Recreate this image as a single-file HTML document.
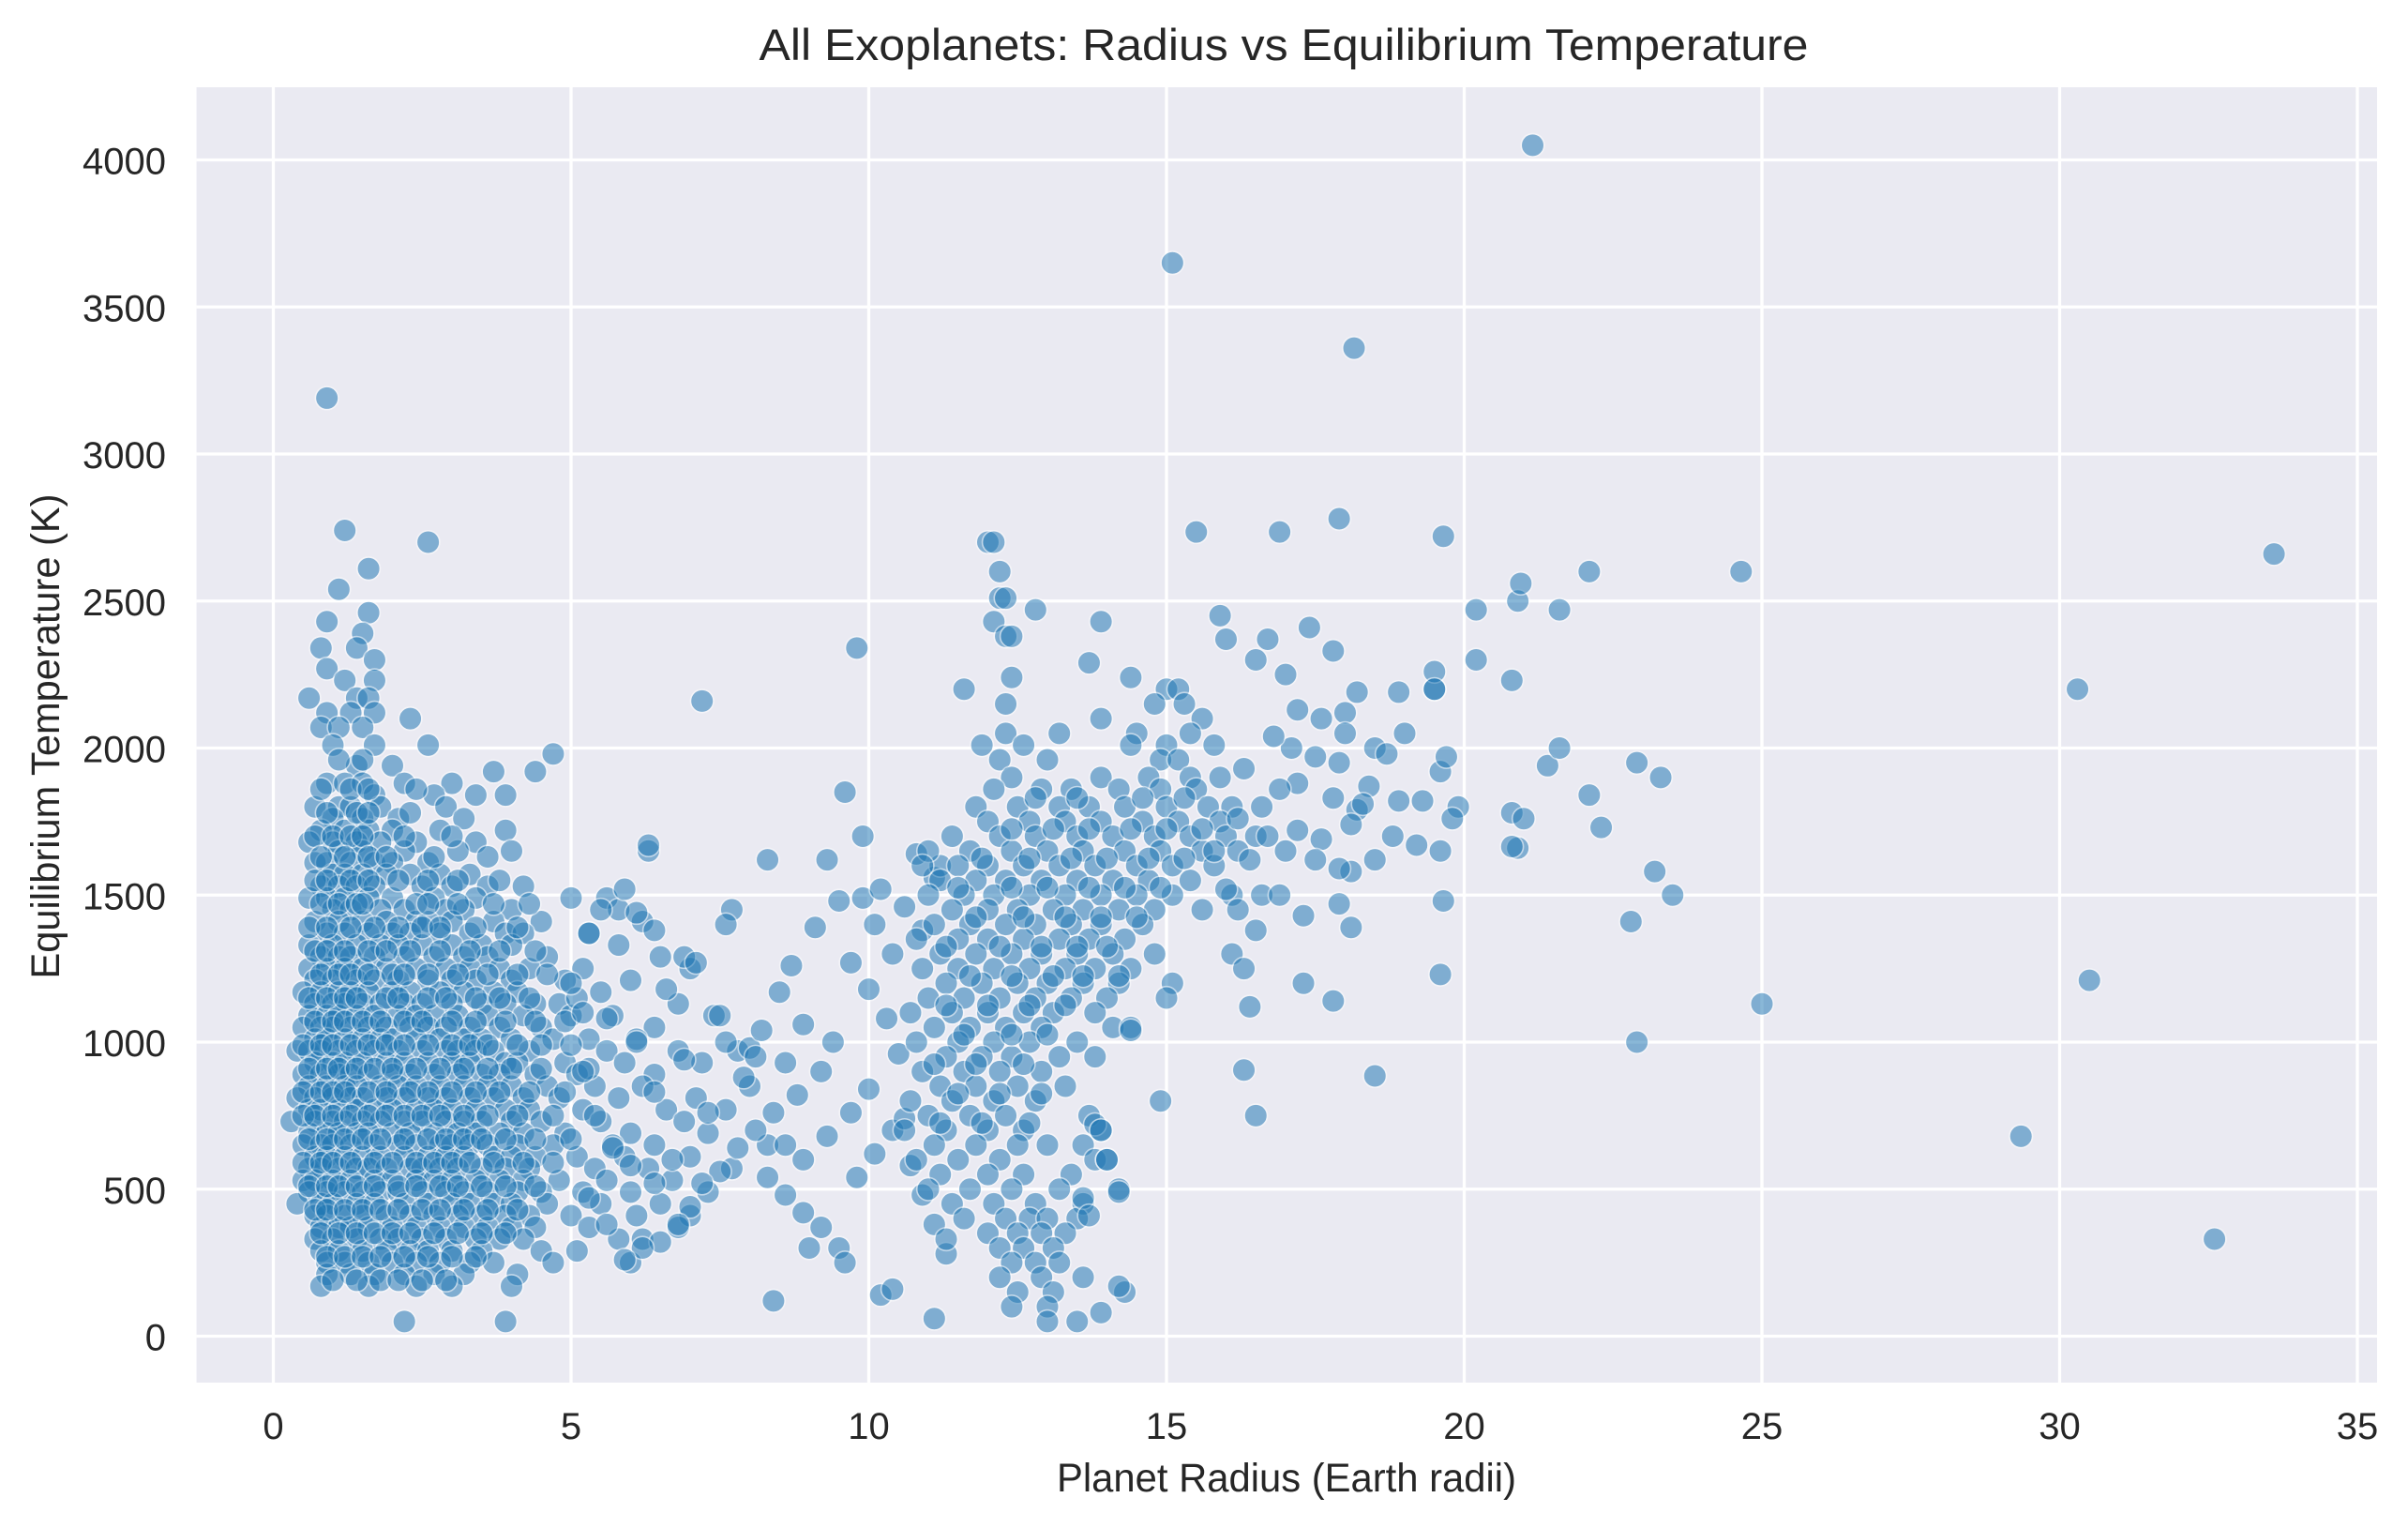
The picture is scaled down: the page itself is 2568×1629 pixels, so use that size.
<!DOCTYPE html>
<html><head><meta charset="utf-8"><title>All Exoplanets: Radius vs Equilibrium Temperature</title>
<style>html,body{margin:0;padding:0;background:#fff}svg{display:block}text{font-family:"Liberation Sans",Arial,sans-serif;fill:#262626}</style>
</head><body>
<svg id="chart" width="2568" height="1629" viewBox="0 0 2568 1629" xmlns="http://www.w3.org/2000/svg">
<rect x="0" y="0" width="2568" height="1629" fill="#ffffff"/>
<rect x="209.6" y="93" width="2325.4" height="1381" fill="#eaeaf2"/>
<g id="grid"></g>
<g id="ticks"></g>
<g id="points"></g>
<text x="1369" y="64" font-size="47" text-anchor="middle" textLength="1119" lengthAdjust="spacingAndGlyphs">All Exoplanets: Radius vs Equilibrium Temperature</text>
<text x="1372" y="1590" font-size="43" text-anchor="middle" textLength="490" lengthAdjust="spacingAndGlyphs">Planet Radius (Earth radii)</text>
<text x="0" y="0" font-size="43" text-anchor="middle" textLength="517" lengthAdjust="spacingAndGlyphs" transform="translate(63,785) rotate(-90)">Equilibrium Temperature (K)</text>
</svg>
<script>
const xTicks = [0, 5, 10, 15, 20, 25, 30, 35];
const yTicks = [0, 500, 1000, 1500, 2000, 2500, 3000, 3500, 4000];

// Small planets: temperature rows and the radii observed at each row
const smallTemps = [2740,2700,2610,2540,2460,2430,2390,2340,2300,2270,2230,2170,2120,2100,2070,2010,1980,1940,1920,1880,1840,1800,1760,1720,1680,1650,1610,1570,1530,1490,1450,1410,1370,1330,1290,1250,1210,1170,1130,1090,1050,1010,970,930,890,850,810,770,730,690,650,610,570,530,490,450,410,370,330,290,250,210,170,50];
const smallRadii = [
[1.2],[2.6],[1.6],[1.1],[1.6],[0.9],[1.5],[0.8,1.4],[1.7],[0.9],[1.2,1.7],[0.6,1.4,1.6],[0.9,1.3,1.7],[2.3],[0.8,1.1,1.5],[1.0,1.7,2.6],[4.7],[1.4,2.0],[3.7,4.4],
[0.9,1.2,1.5,2.2,3.0],[1.7,2.7,3.4,3.9],[0.7,1.1,1.3,1.8,2.9],[1.0,1.5,2.1,3.2],[0.8,1.2,1.6,2.0,2.8,3.9],[0.6,1.0,1.4,1.8,2.4,3.4],[1.1,1.5,2.2,3.1,4.0,6.3],
[0.7,0.9,1.3,1.7,2.0,2.6],[1.0,1.2,1.5,1.9,2.3,2.8,3.3],[0.8,1.1,1.4,1.7,2.5,3.0,3.6,4.2],[0.6,0.9,1.2,1.6,2.0,2.7,3.4,5.0,5.6],[1.0,1.3,1.8,2.2,2.9,3.2,4.0,5.8],
[0.7,1.1,1.5,1.9,2.4,2.6,3.0,3.7,4.5,6.2],[0.9,1.2,1.6,2.0,2.3,2.8,3.3,3.9,4.2,5.3],[0.6,1.0,1.4,1.8,2.1,2.5,3.0,3.5,4.0,5.8],[0.8,1.1,1.3,1.7,2.2,2.7,3.2,3.6,4.6,6.5],
[0.6,0.9,1.2,1.5,1.9,2.4,2.9,3.3,3.8,4.3,5.2,7.0],[0.7,1.0,1.4,1.7,2.1,2.6,3.0,3.4,4.0,4.9,6.0],[0.5,0.8,1.1,1.3,1.6,2.0,2.3,2.8,3.2,3.7,4.1,5.5],
[0.7,1.0,1.2,1.5,1.8,2.2,2.5,3.0,3.5,3.9,4.4,4.8,6.8],[0.6,0.9,1.1,1.4,1.7,2.1,2.4,2.7,3.1,3.6,4.2,5.0,5.7,7.4],[0.5,0.8,1.0,1.3,1.6,1.9,2.3,2.6,2.9,3.3,3.8,4.5,6.4],
[0.7,0.9,1.2,1.5,1.8,2.0,2.4,2.8,3.2,3.5,4.0,4.7,5.3,6.1],[0.4,0.6,0.8,1.1,1.4,1.7,2.1,2.5,2.9,3.1,3.4,3.7,4.3,5.6,6.8,7.8],[0.7,1.0,1.2,1.5,1.9,2.2,2.6,3.0,3.3,3.9,4.1,4.9,5.9,7.2],
[0.5,0.8,1.1,1.3,1.6,2.0,2.3,2.7,3.1,3.5,3.8,4.4,5.1,6.4],[0.6,0.9,1.2,1.4,1.8,2.1,2.4,2.8,3.2,3.6,4.0,4.6,5.4,6.2,8.0],[0.4,0.7,1.0,1.3,1.5,1.9,2.2,2.6,2.9,3.3,3.7,4.2,4.8,5.8,7.1],
[0.6,0.8,1.1,1.4,1.7,2.0,2.4,2.7,3.0,3.4,3.9,4.3,5.2,6.6,7.6],[0.3,0.7,1.0,1.2,1.5,1.8,2.2,2.5,2.9,3.2,3.5,4.0,4.5,5.5,6.9],[0.6,0.9,1.1,1.4,1.6,2.0,2.3,2.7,3.1,3.4,3.8,4.2,4.9,6.0,7.3],
[0.5,0.8,1.0,1.3,1.7,2.1,2.4,2.8,3.0,3.3,3.6,4.1,4.7,5.7,6.4,8.3],[0.7,0.9,1.2,1.5,1.8,2.2,2.6,2.9,3.2,3.7,4.0,4.4,5.1,5.9,7.0],[0.6,0.8,1.1,1.4,1.6,1.9,2.3,2.5,2.8,3.1,3.5,3.9,4.3,5.4,6.3,7.7],
[0.5,0.7,1.0,1.3,1.7,2.0,2.4,2.7,3.0,3.4,3.8,4.2,4.8,5.6,6.7],[0.6,0.9,1.2,1.5,1.8,2.1,2.5,2.9,3.2,3.6,4.1,4.5,5.2,6.0,7.3],[0.4,0.8,1.0,1.4,1.7,2.2,2.6,3.0,3.3,3.7,4.0,4.6,5.5,6.5],
[0.7,0.9,1.2,1.5,1.9,2.3,2.7,3.1,3.5,3.9,4.3,5.0,6.1,7.0],[0.8,1.1,1.3,1.6,2.0,2.4,2.8,3.2,3.6,4.0,4.4,5.3,6.8],[0.7,1.0,1.4,1.8,2.1,2.5,2.9,3.4,3.8,4.2,5.8,6.2],
[0.8,1.1,1.5,1.9,2.3,2.6,3.0,3.5,4.5,5.1],[0.9,1.2,1.6,2.0,2.4,2.8,3.3,3.7,4.7,6.0],[0.9,1.3,1.7,2.2,2.7,3.2,4.1],[0.8,1.6,2.4,3.0,4.0],[2.2,3.9]
];

// Additional small-planet rows filling the densest region
const denseTemps = [1960,1860,1780,1700,1630,1550,1470,1390,1310,1230,1150,1070,990,910,830,750,670,590,510,430,350,270,190];
const denseRadii = [
[1.1,1.5],[0.8,1.3,1.6,2.4],[0.9,1.4,1.6,2.3],[0.7,1.0,1.3,1.5,2.2,3.0],[0.8,1.2,1.6,1.9,2.7,3.6],[0.7,0.9,1.3,1.6,2.1,2.6,3.1,3.8],
[0.8,1.1,1.4,1.5,2.4,2.6,3.1,3.7,4.3],[0.6,0.9,1.3,1.7,2.1,2.5,2.8,3.4,4.1],[0.7,0.9,1.2,1.6,1.9,2.3,2.8,3.3,3.8,4.4],
[0.8,1.1,1.3,1.6,2.0,2.2,2.6,3.1,3.6,4.1,4.6],[0.6,0.9,1.2,1.4,1.9,2.1,2.6,2.9,3.4,3.8,4.3,5.1],[0.7,1.0,1.2,1.5,1.8,2.2,2.5,3.0,3.4,3.9,4.4,4.9],
[0.5,0.8,1.0,1.3,1.6,1.9,2.2,2.6,3.0,3.3,3.6,4.1,4.5,5.0],[0.6,0.9,1.1,1.4,1.7,2.0,2.4,2.8,3.2,3.6,4.0,4.5,5.3],[0.5,0.8,1.0,1.2,1.6,1.9,2.3,2.6,3.0,3.4,3.8,4.3,4.9],
[0.5,0.7,1.0,1.3,1.6,1.9,2.2,2.5,2.8,3.2,3.6,4.1,4.7,5.4],[0.6,0.9,1.2,1.5,1.8,2.2,2.6,2.9,3.2,3.5,3.9,4.4,5.0],[0.5,0.8,1.0,1.3,1.7,2.0,2.4,2.7,3.0,3.3,3.7,4.2,4.7],
[0.6,0.9,1.1,1.4,1.7,2.1,2.4,2.8,3.1,3.5,3.9,4.4],[0.7,0.9,1.2,1.5,1.8,2.1,2.5,2.8,3.2,3.6,4.1],[0.8,1.1,1.4,1.7,2.0,2.3,2.7,3.1,3.5,3.9],
[0.9,1.2,1.5,1.8,2.2,2.6,3.0,3.4],[1.0,1.4,1.8,2.1,2.5,2.9]
];

// Mid-size planets (scattered)
const midRadius = [5.3,5.5,5.9,6.1,6.4,6.3,6.6,6.9,7.1,7.2,7.5,7.7,7.6,8.0,8.3,8.2,8.5,8.7,8.6,8.9,9.1,9.3,9.5,9.6,9.7,9.8,9.9,9.9,10.1,10.2,10.4,10.6,10.8,10.9,11.1,11.2,10.3,10.5,10.0,9.4,9.2,8.8,8.4,8.1,7.8,7.5,7.2,7.0,6.8,6.5,6.2,5.9,5.6,5.3,5.7,6.0,6.4,6.7,7.3,7.9,8.3,8.6,8.9,9.2,9.5,9.8,10.1,10.4,10.7,10.9,11.1,11.3,9.0,9.6,10.2,10.4,11.1,8.4,11.3,10.6,10.0,9.7,9.3,8.9,8.6,8.1,7.6,6.9,6.4,6.1,5.6,5.2,5.0,5.2];
const midTemp = [1370,1450,1520,1440,1380,1670,1180,1290,1270,2160,1090,1450,1400,980,1620,1040,1170,1260,930,1060,1390,1620,1480,1850,1270,2340,1700,1490,1400,1520,1300,1460,1640,1380,1560,1600,1080,960,1180,1000,900,820,760,700,640,560,520,440,380,320,300,260,380,470,640,580,520,600,760,880,540,480,420,370,300,540,620,700,580,480,380,280,300,250,140,160,60,120,330,740,840,760,680,600,650,950,1000,940,830,1000,1080,900,1200,1100];

// Hot Jupiter cluster: temperature rows and radii
const jupTemps = [2700,2600,2510,2470,2430,2380,2290,2240,2200,2150,2100,2050,2010,1960,1900,1860,1800,1750,1700,1650,1600,1550,1500,1450,1400,1350,1300,1250,1200,1150,1100,1050,1000,950,900,850,800,750,700,650,600,550,500,450,400,350,300,250,200,150,100,50];
const jupRadii = [
[12.0,12.1],[12.2],[12.2,12.3],[12.8],[13.9,12.1],[12.3,12.4],[13.7],[12.4,14.4],[11.6,15.0,15.2],[15.3,14.8,12.3],[13.9,15.6],[12.3,13.2,14.5,15.4],[11.9,12.6,14.4,15.0,15.8],[12.2,13.0,14.9,15.2],
[12.4,13.9,14.7,15.4,15.9],[12.1,12.9,13.4,14.2,14.9,15.5],[11.8,12.5,13.2,13.7,14.3,15.0,15.7,16.1],[12.0,12.7,13.3,13.9,14.6,15.2,15.9],[11.4,12.2,12.8,13.5,14.1,14.8,15.4,16.0,16.5],
[11.0,11.7,12.4,13.0,13.6,14.3,14.9,15.6,16.2],[10.9,11.5,12.0,12.6,13.2,13.8,14.5,15.1,15.8],[11.2,11.8,12.3,12.9,13.5,14.1,14.7,15.4],[11.0,11.6,12.1,12.7,13.3,13.9,14.5,15.1,16.1],
[11.4,12.0,12.5,13.1,13.6,14.2,14.8,15.6],[11.1,11.7,12.3,12.8,13.4,13.9,14.6],[10.8,11.5,12.0,12.6,13.2,13.7,14.3],[11.2,11.8,12.4,12.9,13.5,14.1,14.8],[10.9,11.5,12.1,12.7,13.3,13.8,14.4],
[11.3,11.9,12.5,13.0,13.6,14.2,15.1],[11.0,11.6,12.2,12.8,13.4,14.0,15.0],[10.7,11.4,12.0,12.6,13.1,13.8],[11.1,11.7,12.3,12.9,14.1,14.4],[10.8,11.5,12.1,12.7,13.5],[11.3,11.9,12.4,13.2,13.8],
[10.9,11.6,12.2,12.9],[11.2,11.8,12.5,13.3],[10.7,11.4,12.1,12.8,14.9],[11.0,11.7,12.3,13.7],[10.6,11.3,12.0,12.6,13.9],[11.1,11.8,12.5,13.0,13.6],[10.8,11.5,12.2,13.8,14.0],[11.2,12.0,12.6,13.4],
[11.0,11.7,12.4,13.2,14.2],[11.4,12.1,12.8,13.6],[11.6,12.3,12.7,13.0,13.5],[12.0,12.5,12.9,13.3],[12.2,12.6,13.1],[12.4,12.8,13.2],[12.2,12.9,13.6],[12.5,13.1,14.3],[12.4,13.0],[13.0,13.5]
];

// Extra hot Jupiter rows (denser core)
const jupTemps2 = [1830,1725,1625,1525,1425,1325,1225,1125,1025,925,825,725];
const jupRadii2 = [
[12.8,13.5,14.6,15.3],[12.4,13.1,13.7,14.4,15.0,15.6],[11.9,12.7,13.4,14.0,14.7,15.3],[11.5,12.4,13.0,13.7,14.3,14.9],[11.8,12.6,13.3,13.9,14.5],
[11.3,12.2,12.9,13.5,14.0],[11.7,12.4,13.1,13.6,14.2],[11.3,12.0,12.7,13.3],[11.6,12.4,13.0],[11.1,11.8,12.6],[11.5,12.2,12.9],[11.2,11.9,12.7]
];

// Warm / large planets and outliers
const largeRadius = [16.0,15.9,16.7,17.4,17.8,17.0,16.5,17.2,17.6,18.0,18.2,18.9,19.5,19.0,18.5,18.0,17.5,17.1,16.8,16.3,17.9,18.4,18.7,18.9,19.3,19.6,19.9,19.8,18.2,17.8,17.2,16.9,16.6,16.2,16.7,17.2,17.6,18.1,18.5,18.8,19.2,17.5,17.0,16.6,16.9,16.2,16.5,16.1,16.3,17.3,17.3,17.8,18.1,18.1,17.9,16.4,15.8,16.0,16.4,17.9,18.3,20.8,20.9,20.2,20.8,21.0,21.4,19.6,19.7,13.6,13.7,14.2,13.9,14.0,14.2,13.8,13.9,14.4];
const largeTemp = [2370,2450,2370,2410,2330,2250,2300,2130,2100,2120,2190,2190,2200,2050,2000,2050,1970,2000,2040,1930,1950,1870,1980,1820,1820,1920,1800,1760,1790,1830,1880,1860,1800,1760,1700,1720,1690,1740,1620,1700,1670,1620,1650,1500,1500,1450,1380,1300,1250,1430,1200,1140,1390,1580,1470,1620,1650,1520,1120,1590,1810,1780,1660,2300,2230,1760,1940,1650,1970,470,410,170,80,600,490,720,700,1040];
const outlierRadius = [21.15,15.1,18.15,0.9,17.9,15.5,16.9,19.65,33.6,24.65,22.1,20.2,20.9,20.95,21.6,30.3,21.6,22.9,23.3,22.1,22.3,23.5,23.2,22.8,25.0,30.5,22.9,29.35,32.6,18.5,16.3,16.5,19.6,19.65,20.8,19.5,19.5];
const outlierTemp = [4050,3650,3360,3190,2780,2735,2735,2720,2660,2600,2600,2470,2500,2560,2470,2200,2000,1950,1900,1840,1730,1500,1580,1410,1130,1210,1000,680,330,885,905,750,1230,1480,1665,2260,2200];

const svgNS = 'http://www.w3.org/2000/svg';
const plotL = 209.6, plotR = 2535, plotT = 93, plotB = 1474;
const x0 = 291.5, xPerUnit = 63.5;
const y0 = 1424.5, yPerUnit = 0.3135;
function xScale(v){ return x0 + v * xPerUnit; }
function yScale(v){ return y0 - v * yPerUnit; }

const grid = document.getElementById('grid');
const ticks = document.getElementById('ticks');
const pts = document.getElementById('points');

xTicks.forEach(function(t){
  const gl = document.createElementNS(svgNS, 'line');
  
  
  gl.setAttribute('x1', xScale(t)); gl.setAttribute('x2', xScale(t));
  gl.setAttribute('y1', plotT); gl.setAttribute('y2', plotB);
  gl.setAttribute('stroke', '#ffffff'); gl.setAttribute('stroke-width', '3.3');
  grid.appendChild(gl);
  const tx = document.createElementNS(svgNS, 'text');
  
  
  tx.setAttribute('x', xScale(t)); tx.setAttribute('y', 1534);
  tx.setAttribute('font-size', '40'); tx.setAttribute('text-anchor', 'middle');
  tx.textContent = String(t);
  ticks.appendChild(tx);
});
yTicks.forEach(function(t){
  const gl = document.createElementNS(svgNS, 'line');
  
  
  gl.setAttribute('x1', plotL); gl.setAttribute('x2', plotR);
  gl.setAttribute('y1', yScale(t)); gl.setAttribute('y2', yScale(t));
  gl.setAttribute('stroke', '#ffffff'); gl.setAttribute('stroke-width', '3.3');
  grid.appendChild(gl);
  const tx = document.createElementNS(svgNS, 'text');
  
  
  tx.setAttribute('x', 177); tx.setAttribute('y', yScale(t) + 15);
  tx.setAttribute('font-size', '40'); tx.setAttribute('text-anchor', 'end');
  tx.textContent = String(t);
  ticks.appendChild(tx);
});

function addPoint(r, t){
  const c = document.createElementNS(svgNS, 'circle');
  
  
  c.setAttribute('cx', xScale(r)); c.setAttribute('cy', yScale(t));
  c.setAttribute('r', '12.3');
  c.setAttribute('fill', '#1f77b4');
  c.setAttribute('stroke', '#ffffff'); c.setAttribute('stroke-width', '1.6');
  c.setAttribute('opacity', '0.52');
  pts.appendChild(c);
}
smallTemps.forEach(function(t, i){ smallRadii[i].forEach(function(r){ addPoint(r, t); }); });
denseTemps.forEach(function(t, i){ denseRadii[i].forEach(function(r){ addPoint(r, t); }); });
midRadius.forEach(function(r, i){ addPoint(r, midTemp[i]); });
jupTemps.forEach(function(t, i){ jupRadii[i].forEach(function(r){ addPoint(r, t); }); });
jupTemps2.forEach(function(t, i){ jupRadii2[i].forEach(function(r){ addPoint(r, t); }); });
largeRadius.forEach(function(r, i){ addPoint(r, largeTemp[i]); });
outlierRadius.forEach(function(r, i){ addPoint(r, outlierTemp[i]); });
</script>
</body></html>
